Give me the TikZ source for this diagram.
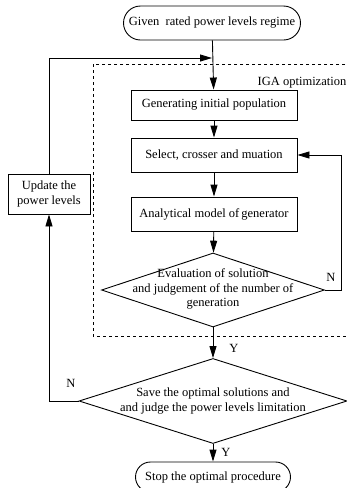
\documentclass[tikz,border=0pt]{standalone}
\usepackage{fontspec}
\setmainfont{Liberation Serif}
\usetikzlibrary{arrows.meta,shapes.misc,shapes.geometric}

\begin{document}
\begin{tikzpicture}[x=1pt,y=-1pt,
    font=\fontsize{12.5}{14.5}\selectfont,
    line width=0.9pt,
    proc/.style={draw,rectangle,minimum width=166pt,minimum height=34pt,inner sep=0pt},
    term/.style={draw,rounded rectangle,minimum height=34pt,inner sep=0pt},
    decision/.style={draw,diamond,inner sep=0pt},
    flow/.style={-{Triangle[length=12pt,width=7pt]}}]
    % Frame
    \useasboundingbox (0,0) rectangle (347,488);

    % IGA block
    \draw[dashed,line width=0.6pt] (93,64) rectangle (352,336);
    \node (iga) at (302,83) {IGA optimization};

    % Start and stop
    \node[term,minimum width=177pt] (start) at (212,23) {Given\ \ rated power levels regime};
    \node[term,minimum width=155pt,minimum height=30pt] (stop) at (213,477) {Stop the optimal procedure};

    % Steps
    \node[proc,minimum height=30pt] (gen) at (214,105) {Generating initial population};
    \node[proc] (sel) at (214,155) {Select, crosser and muation};
    \node[proc] (model) at (214,214) {Analytical model of\,generator};
    \node[draw,align=center,minimum width=82pt,minimum height=40pt,inner sep=0pt] (update) at (49,194) {Update the\\power levels};

    % Decisions
    \node[decision,minimum width=223pt,minimum height=74pt] (eval) at (213,290) {};
    \node[align=center] (evaltxt) at (213,289) {Evaluation of solution\\and judgement of the number of\\generation};
    \node[decision,minimum width=268pt,minimum height=85pt] (save) at (213,401) {};
    \node[align=center] (savetxt) at (213,401) {Save the optimal solutions and\\and judge the power levels limitation};

    % Turning points
    \coordinate (join) at (212,58);
    \coordinate (nturn) at (341,290);

    % Arrows
    \draw[flow] (start) -- (gen);
    \draw[flow] (gen) -- (sel);
    \draw[flow] (sel) -- (model);
    \draw[flow] (model) -- (eval);
    \draw[flow] (eval.east) -- (nturn) |- (sel.east);
    \draw[flow] (eval) -- (save);
    \draw[flow] (save.west) -| (update);
    \draw[flow] (update) |- (join);
    \draw[flow] (save) -- (stop);

    % Branch labels
    \node (n1) at (331,277) {N};
    \node (y1) at (234,348) {Y};
    \node (n2) at (71,383) {N};
    \node (y2) at (226,452) {Y};
\end{tikzpicture}
\end{document}
